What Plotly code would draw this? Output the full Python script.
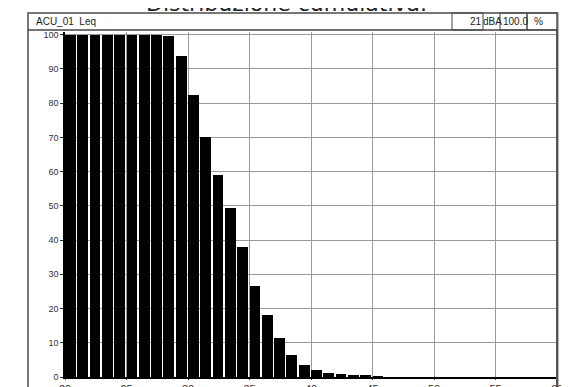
import plotly.graph_objects as go

# ---- data ----
levels = [20, 21, 22, 23, 24, 25, 26, 27, 28, 29, 30, 31, 32, 33, 34, 35,
          36, 37, 38, 39, 40, 41, 42, 43, 44, 45]
cumulative = [100, 100, 100, 100, 100, 100, 100, 100, 99.6, 93.9, 82.4, 70.1,
              59.1, 49.3, 37.9, 26.7, 18.0, 11.3, 6.4, 3.5, 2.0, 1.2, 0.9, 0.6,
              0.3, 0.1]
x_ticks = [20, 25, 30, 35, 40, 45, 50, 55, 60]
y_ticks = [0, 10, 20, 30, 40, 50, 60, 70, 80, 90, 100]
title_text = "Distribuzione cumulativa."
header_left = "ACU_01  Leq"
header_value = "21"
header_unit = "dBA"
header_pct = "100.0"

# page has an 8px body margin; work in figure pixels (screen - 8)
OFF = 8
W, H = 569 - OFF, 387 - OFF
L, R, T, B = 65 - OFF, 557 - OFF, 32 - OFF, 377 - OFF


def px(sx):
    return (sx - OFF - L) / (R - L)


def py(sy):
    return (B - (sy - OFF)) / (B - T)


fig = go.Figure()
fig.add_trace(go.Bar(
    x=levels, y=cumulative, width=0.88, offset=0.0,
    marker=dict(color="black", line=dict(width=0)),
    hoverinfo="skip",
))

shapes = []
# outer frame
shapes.append(dict(type="rect", xref="paper", yref="paper",
                   x0=px(28), x1=px(557.5), y0=py(13), y1=py(400),
                   line=dict(color="#777777", width=2), layer="above"))
# header bottom line
shapes.append(dict(type="line", xref="paper", yref="paper",
                   x0=px(28), x1=px(557.5), y0=py(30), y1=py(30),
                   line=dict(color="#444444", width=1.5), layer="above"))
# right plot border
shapes.append(dict(type="line", xref="paper", yref="paper",
                   x0=px(557), x1=px(557), y0=py(30), y1=py(400),
                   line=dict(color="#555555", width=2), layer="above"))
# header boxes
for x0, x1 in [(452, 483), (500, 527), (527, 557)]:
    shapes.append(dict(type="rect", xref="paper", yref="paper",
                       x0=px(x0), x1=px(x1), y0=py(13), y1=py(30),
                       line=dict(color="#444444", width=1), layer="above"))

ann = []
hfont = dict(family="Liberation Sans, Arial", size=10, color="#222222")
ann.append(dict(text=header_left, xref="paper", yref="paper", x=px(34), y=py(21.5),
                xanchor="left", yanchor="middle", showarrow=False, font=hfont))
ann.append(dict(text=header_value, xref="paper", yref="paper", x=px(484), y=py(21.5),
                xanchor="right", yanchor="middle", showarrow=False, font=hfont))
ann.append(dict(text=header_unit, xref="paper", yref="paper", x=px(481), y=py(21.5),
                xanchor="left", yanchor="middle", showarrow=False, font=hfont))
ann.append(dict(text=header_pct, xref="paper", yref="paper", x=px(501), y=py(21.5),
                xanchor="left", yanchor="middle", showarrow=False, font=hfont))
ann.append(dict(text="%", xref="paper", yref="paper", x=px(532), y=py(21.5),
                xanchor="left", yanchor="middle", showarrow=False, font=hfont))

fig.update_layout(
    width=W, height=H,
    margin=dict(l=L, r=W - R, t=T, b=H - B, autoexpand=False),
    paper_bgcolor="white", plot_bgcolor="white",
    showlegend=False,
    bargap=0,
    title=dict(text=title_text, x=(286.5 - OFF) / W, xanchor="center",
               y=1 - 3 / H, yanchor="bottom", yref="container",
               font=dict(family="DejaVu Sans", size=22, color="#222222")),
    shapes=shapes,
    annotations=ann,
    xaxis=dict(range=[20, 60], tickvals=x_ticks, ticktext=[str(v) for v in x_ticks],
               showgrid=True, gridcolor="#9a9a9a", gridwidth=1,
               showline=True, linecolor="black", linewidth=1.5,
               ticks="outside", ticklen=1, tickcolor="#333333",
               tickfont=dict(family="Liberation Sans, Arial", size=11, color="#333333"),
               zeroline=False, fixedrange=True, automargin=False),
    yaxis=dict(range=[0, 100.8], tickvals=y_ticks, ticktext=[str(v) for v in y_ticks],
               showgrid=True, gridcolor="#9a9a9a", gridwidth=1,
               showline=True, linecolor="black", linewidth=1.5,
               ticks="outside", ticklen=3, tickcolor="#333333",
               tickfont=dict(family="Liberation Sans, Arial", size=9, color="#333333"),
               zeroline=False, fixedrange=True, automargin=False),
)

fig.write_html("out.html")
